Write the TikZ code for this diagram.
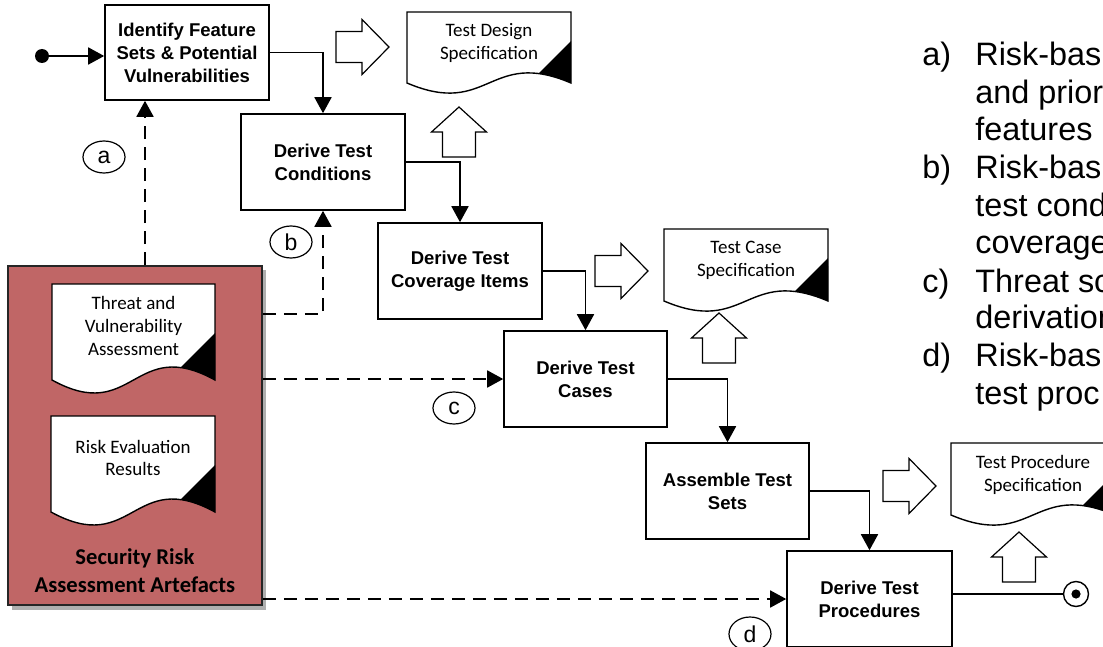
\documentclass[tikz,border=0pt]{standalone}
\usepackage{fontspec}
\setmainfont{Liberation Sans}
\newfontfamily\calfont{Carlito}
\usetikzlibrary{arrows.meta,shapes.geometric}
\definecolor{redfill}{RGB}{192,102,102}
\definecolor{shadowc}{RGB}{175,175,175}

\tikzset{
  box/.style={draw, line width=0.8pt, fill=white, minimum width=82pt, minimum height=48pt,
    align=center, inner sep=0pt, font=\bfseries\fontsize{9.25}{11.5}\selectfont},
  conn/.style={line width=0.9pt, -{Triangle[length=8pt,width=8.5pt]}},
  dconn/.style={line width=0.9pt, dash pattern=on 6.5pt off 4pt, -{Triangle[length=8pt,width=8.5pt]}},
  doctext/.style={align=center, inner sep=0pt, font=\calfont\fontsize{9.5}{11.25}\selectfont},
  docline/.style={line width=0.7pt},
  blk/.style={draw, line width=0.6pt, fill=white},
  lbl/.style={ellipse, draw, line width=0.6pt, minimum width=21pt, minimum height=16pt,
    inner sep=0pt, font=\fontsize{11.5}{13}\selectfont},
  listtext/.style={anchor=base west, inner sep=0pt, font=\fontsize{16.2}{19}\selectfont},
}

% document shape: x0, y0, width, height to wave, wave amplitude, triangle size
\newcommand{\docshape}[6]{%
  \pgfmathsetmacro\dxa{#1+#3}%
  \pgfmathsetmacro\dyb{#2+#4}%
  \pgfmathsetmacro\dxm{#1+#3/2}%
  \pgfmathsetmacro\dup{\dyb-#5}%
  \pgfmathsetmacro\ddn{\dyb+#5}%
  \pgfmathsetmacro\dtt{\dyb-#6}%
  \begin{scope}
    \clip (#1,#2) -- (\dxa,#2) -- (\dxa,\dyb) .. controls (\dxm,\dup) and (\dxm,\ddn) .. (#1,\dyb) -- cycle;
    \fill[white] (#1,#2) rectangle (\dxa,\ddn);
    \fill[black] (\dxa,\dtt) -- ++(-90,90) -- ++(100,0) -- cycle;
  \end{scope}
  \draw[docline] (#1,#2) -- (\dxa,#2) -- (\dxa,\dyb) .. controls (\dxm,\dup) and (\dxm,\ddn) .. (#1,\dyb) -- cycle;
}
\newcommand{\rblock}[2]{\draw[blk] (#1-53,#2-15.5) -- (#1-27,#2-15.5) -- (#1-27,#2-27.5) -- (#1,#2) -- (#1-27,#2+27.5) -- (#1-27,#2+15.5) -- (#1-53,#2+15.5) -- cycle;}
\newcommand{\ublock}[2]{\draw[blk] (#1,#2) -- (#1+27.5,#2+25) -- (#1+16.5,#2+25) -- (#1+16.5,#2+50) -- (#1-16.5,#2+50) -- (#1-16.5,#2+25) -- (#1-27.5,#2+25) -- cycle;}

\begin{document}
\begin{tikzpicture}[x=0.5pt,y=-0.5pt]
\useasboundingbox (0,0) rectangle (1103,647);
\clip (0,0) rectangle (1103,647);

% Security risk artefacts box
\fill[shadowc] (12,270) rectangle (266,610);
\node[draw=black!85, line width=0.9pt, fill=redfill, minimum width=127pt, minimum height=169.5pt, inner sep=0pt] (red) at (135,435.5) {};
\docshape{52}{284}{163}{96}{45}{47}
\node[doctext, font=\calfont\fontsize{9.5}{11.5}\selectfont] (tva) at (133.5,326) {Threat and\\Vulnerability\\Assessment};
\docshape{51}{416}{164}{96}{45}{47}
\node[doctext] (rer) at (133,458) {Risk Evaluation\\Results};
\node[align=center, inner sep=0pt, font=\calfont\bfseries\fontsize{11.3}{14}\selectfont] (redt) at (135,571) {Security Risk\\Assessment Artefacts};

% process boxes
\node[box, minimum height=47.5pt] (box1) at (187,52.5) {Identify Feature\\Sets \& Potential\\Vulnerabilities};
\node[box] (box2) at (323,162) {Derive Test\\Conditions};
\node[box] (box3) at (460,271) {Derive Test\\Coverage Items};
\node[box, minimum width=81.5pt] (box4) at (585.5,379) {Derive Test\\Cases};
\node[box, minimum width=81.5pt] (box5) at (727.5,491) {Assemble Test\\Sets};
\node[box, minimum width=82.5pt] (box6) at (869.5,599) {Derive Test\\Procedures};

% start and end
\node[circle, fill, minimum size=7pt, inner sep=0pt] (start) at (42,56) {};
\node[circle, draw, fill=white, line width=0.7pt, minimum size=12.5pt, inner sep=0pt] (endc) at (1076,594) {};
\fill (endc.center) circle[radius=2.3pt];

% solid connectors
\draw[conn] (start) -- (start -| box1.west);
\draw[conn] (box1.east) -| (box2.north);
\draw[conn] (box2.east) -| (box3.north);
\draw[conn] (box3.east) -| (box4.north);
\draw[conn] (box4.east) -| (box5.north);
\draw[conn] (box5.east) -| (box6.north);
\draw[line width=0.9pt] (box6.east |- endc) -- (endc);

% dashed connectors
\coordinate (ax) at (145,0);
\coordinate (by) at (0,314);
\draw[dconn] (red.north -| ax) -- (box1.south -| ax);
\draw[dconn] (red.east |- by) -| (box2.south);
\draw[dconn] (red.east |- box4.west) -- (box4.west);
\draw[dconn] (red.east |- box6.west) -- (box6.west);

% labels
\node[lbl] (la) at (104,157) {a};
\node[lbl] (lb) at (291,242) {b};
\node[lbl] (lc) at (454,408) {c};
\node[lbl, minimum height=17pt] (ld) at (750,634) {d};

% documents
\docshape{407}{12}{164}{71}{35}{42}
\node[doctext] (d1t) at (489,43) {Test Design\\Specification};
\docshape{664}{229}{164}{72}{35}{43}
\node[doctext] (d2t) at (746,260.5) {Test Case\\Specification};
\docshape{951}{443}{164}{72}{35}{42}
\node[doctext] (d3t) at (1033,475) {Test Procedure\\Specification};

% block arrows
\rblock{389}{47}
\ublock{459}{107}
\rblock{648}{271}
\ublock{719}{313}
\rblock{936}{486}
\ublock{1019}{532}

% list text (cut at the picture's right edge, as in the reference)
\node[listtext] (ia) at (922,65.7) {a)};
\node[listtext] (t1) at (975,65.7) {Risk-bas};
\node[listtext] (t2) at (975,103.3) {and prior};
\node[listtext] (t3) at (975,140.9) {features};
\node[listtext] (ib) at (922,178.5) {b)};
\node[listtext] (t4) at (975,178.5) {Risk-bas};
\node[listtext] (t5) at (975,216.1) {test cond};
\node[listtext] (t6) at (975,253.7) {coverage};
\node[listtext] (ic) at (922,292.5) {c)};
\node[listtext] (t7) at (975,292.5) {Threat sc};
\node[listtext] (t8) at (975,328.9) {derivation};
\node[listtext] (id) at (922,366.5) {d)};
\node[listtext] (t9) at (975,366.5) {Risk-bas};
\node[listtext] (t10) at (975,404.1) {test proc};
\end{tikzpicture}
\end{document}
